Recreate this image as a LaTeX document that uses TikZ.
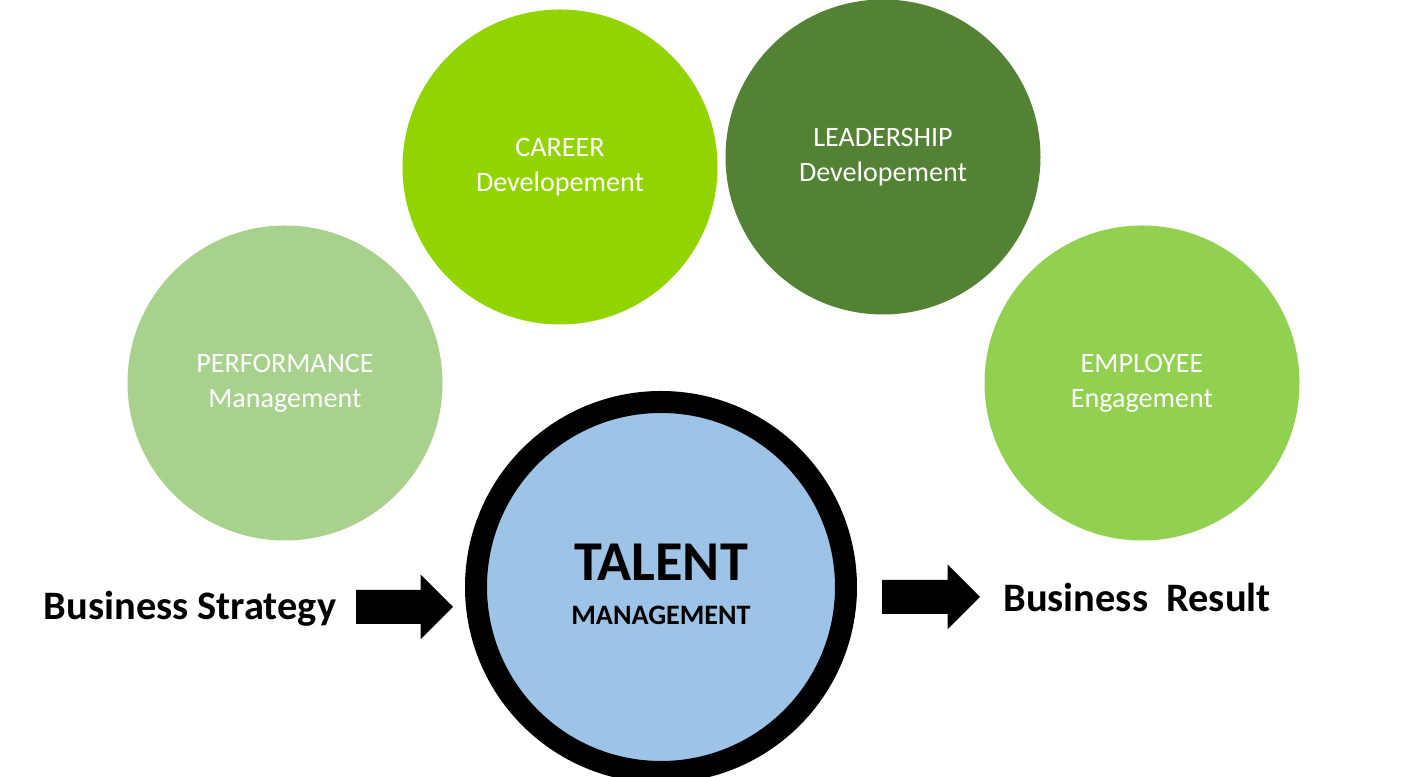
\documentclass[tikz,border=0pt]{standalone}
\usepackage{fontspec}
\setmainfont{Carlito}

\definecolor{perfgreen}{HTML}{A9D18E}
\definecolor{careergreen}{HTML}{92D400}
\definecolor{leadgreen}{HTML}{548235}
\definecolor{empgreen}{HTML}{92D050}
\definecolor{talentblue}{HTML}{9DC3E6}

\tikzset{
  bubble/.style={circle, minimum size=6.3cm, inner sep=0pt, text=white,
    align=center, font=\fontsize{16}{20}\selectfont},
  sidelabel/.style={font=\fontsize{23}{27}\selectfont\bfseries}
}
% block arrow: body half-height 0.34, head half-height 0.65, head length 0.65
\newcommand{\blockarrow}[3]{%
  \fill (#1,#3-0.34) -- (#2-0.65,#3-0.34) -- (#2-0.65,#3-0.65) -- (#2,#3)
    -- (#2-0.65,#3+0.65) -- (#2-0.65,#3+0.34) -- (#1,#3+0.34) -- cycle;}

\begin{document}
\begin{tikzpicture}
    \useasboundingbox (0,0) rectangle (28.1,15.54);

    \node[bubble, fill=perfgreen] (perf) at (5.70,7.88) {PERFORMANCE\\Management};
    \node[bubble, fill=careergreen] (career) at (11.20,12.20) {CAREER\\Developement};
    \node[bubble, fill=leadgreen] (lead) at (17.66,12.40) {LEADERSHIP\\Developement};
    \node[bubble, fill=empgreen] (emp) at (22.84,7.88) {EMPLOYEE\\Engagement};

    \draw[line width=0.44cm, fill=talentblue] (13.22,3.80) circle (3.70);
    \node[font=\fontsize{32}{36}\selectfont\bfseries] (talent) at (13.22,4.30) {TALENT};
    \node[font=\fontsize{16}{20}\selectfont\bfseries] (mgmt) at (13.22,3.24) {MANAGEMENT};

    \node[sidelabel] (strategy) at (3.80,3.36) {Business Strategy};
    \node[sidelabel] (result) at (22.74,3.60) {Business\ \ Result};

    \blockarrow{7.12}{9.06}{3.40}
    \blockarrow{17.64}{19.60}{3.60}
\end{tikzpicture}
\end{document}
